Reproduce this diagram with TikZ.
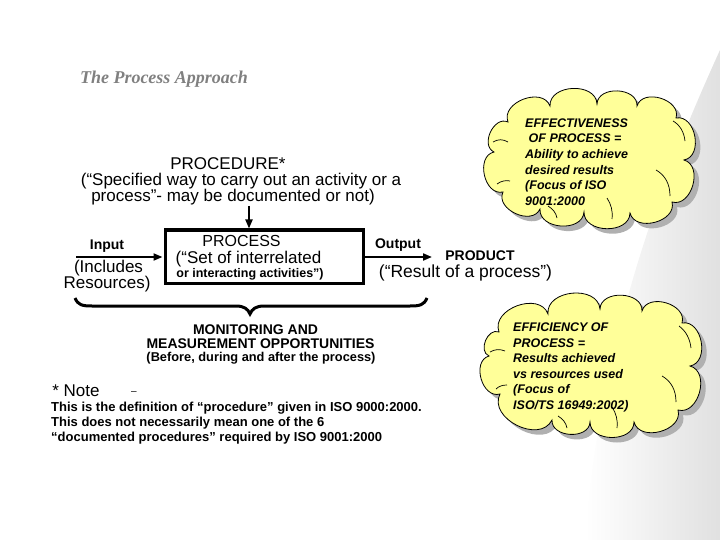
\documentclass[tikz,border=0pt]{standalone}
\usepackage{fontspec}
\setmainfont{Liberation Sans}
\newfontfamily\titlefont{Liberation Serif}
\usetikzlibrary{arrows.meta,calc}
\definecolor{cloudyellow}{RGB}{255,255,153}
\definecolor{titlegray}{RGB}{128,128,128}
\newcommand\cloudpath[1]{(#1-1) \foreach \i [evaluate=\i as \j using {int(mod(\i,12)+1)}] in {1,...,12}{
   .. controls ($(#1-\i)!0.47!90:(#1-\j)$) and ($(#1-\j)!0.47!-90:(#1-\i)$) .. (#1-\j)} -- cycle}
\begin{document}
\begin{tikzpicture}[x=1pt,y=-1pt,
  lbl/.style={inner sep=0pt, anchor=center, text=black},
  reg/.style={lbl, font=\fontsize{17}{20}\selectfont},
  bld/.style={lbl, font=\fontsize{14}{17}\selectfont\bfseries},
  arr/.style={line width=2pt, -{Triangle[length=9pt,width=7pt]}},
  cloudline/.style={draw=black, line width=0.8pt, fill=cloudyellow},
  cloudshadow/.style={fill=gray!62, draw=none, transform canvas={shift={(5,5)}}},
  innerarc/.style={draw=black, line width=0.7pt},
  cloudtext/.style={inner sep=0pt, align=left, font=\fontsize{12.5}{15.6}\selectfont\bfseries\itshape}]
\useasboundingbox (0,0) rectangle (720,540);
% background tint
\shade[left color=white, right color=gray!24, draw=none]
  (585,540) .. controls (600,330) and (670,160) .. (720,50) -- (720,540) -- cycle;
% title
\node[lbl, font=\titlefont\fontsize{18}{20}\selectfont\bfseries\itshape, text=titlegray] (title) at (164,79) {The Process Approach};
% procedure
\node[reg] (proc1) at (228,164) {PROCEDURE*};
\node[reg] (proc2) at (241,181.5) {(“Specified way to carry out an activity or a};
\node[reg] (proc3) at (233,197.5) {process”- may be documented or not)};
% process box
\node[draw, line width=3pt, minimum width=198, minimum height=53, inner sep=0pt] (box) at (264,256.5) {};
\node[lbl, font=\fontsize{16}{19}\selectfont] (pA) at (241.5,241) {PROCESS};
\node[reg] (pB) at (248.5,259) {(“Set of interrelated};
\node[lbl, font=\fontsize{12.5}{15}\selectfont\bfseries] (pC) at (250,274) {or interacting activities”)};
\coordinate (procbot) at (249,206);
\draw[arr] (procbot) -- (box.north -| procbot);
% input
\coordinate (inStart) at (76,257);
\draw[arr, shorten >=1pt] (inStart) -- (box.west |- inStart);
\node[bld] (inLbl) at (107,246) {Input};
\node[reg] (inc1) at (108.5,268) {(Includes};
\node[reg] (inc2) at (107,284) {Resources)};
% output
\coordinate (outEnd) at (432,257);
\draw[arr] (box.east |- outEnd) -- (outEnd);
\node[bld] (outLbl) at (398,245) {Output};
\node[bld] (prod) at (480,256) {PRODUCT};
\node[lbl, font=\fontsize{17.5}{20}\selectfont] (prodDef) at (465.5,273) {(“Result of a process”)};
% brace
\draw[line width=3pt] (75,298) .. controls (78,305) and (82,306) .. (92,306) -- (236,306)
  .. controls (244,306) and (248,309) .. (250,314)
  .. controls (252,309) and (256,306) .. (264,306) -- (410,306)
  .. controls (420,306) and (424,305) .. (427,298);
% monitoring
\node[bld] (mon1) at (255.5,330) {MONITORING AND};
\node[bld] (mon2) at (260.5,344) {MEASUREMENT OPPORTUNITIES};
\node[lbl, font=\fontsize{12.8}{15}\selectfont\bfseries] (mon3) at (261,358) {(Before, during and after the process)};
% note
\node[reg] (note) at (76,391) {* Note};
\node[lbl, font=\fontsize{10}{12}\selectfont] (dash) at (134,393) {–};
\node[inner sep=0pt, anchor=west, align=left, font=\fontsize{13}{15}\selectfont\bfseries] (noteBody) at (51,423)
  {This is the definition of “procedure” given in ISO 9000:2000.\\This does not necessarily mean one of the 6\\“documented procedures” required by ISO 9001:2000};
% effectiveness cloud
\coordinate (E-1) at (508,122);  \coordinate (E-2) at (550,106);
\coordinate (E-3) at (597,104);  \coordinate (E-4) at (637,106);
\coordinate (E-5) at (676,118);  \coordinate (E-6) at (684,160);
\coordinate (E-7) at (672,202);  \coordinate (E-8) at (630,213);
\coordinate (E-9) at (584,212);  \coordinate (E-10) at (540,209);
\coordinate (E-11) at (503,192); \coordinate (E-12) at (494,152);
\path[cloudshadow] \cloudpath{E};
\path[cloudline] \cloudpath{E};
\draw[innerarc] (493,142) .. controls (498,139) and (503,139) .. (508,142);
\draw[innerarc] (497,184) .. controls (501,181) and (506,180) .. (510,181);
\draw[innerarc] (673,121) .. controls (680,125) and (684,132) .. (685,141);
\draw[innerarc] (656,170) .. controls (665,175) and (670,184) .. (670,196);
\draw[innerarc] (607,198) .. controls (611,204) and (613,211) .. (612,219);
\draw[innerarc] (548,206) .. controls (553,209) and (556,213) .. (557,218);
\node[cloudtext, anchor=west] (effT) at (525,162)
  {EFFECTIVENESS\\\ OF PROCESS =\\Ability to achieve\\desired results\\(Focus of ISO\\9001:2000};
% efficiency cloud
\coordinate (F-1) at (499,332);  \coordinate (F-2) at (548,314);
\coordinate (F-3) at (600,309);  \coordinate (F-4) at (642,311);
\coordinate (F-5) at (682,323);  \coordinate (F-6) at (690,366);
\coordinate (F-7) at (678,410);  \coordinate (F-8) at (634,422);
\coordinate (F-9) at (590,422);  \coordinate (F-10) at (552,420);
\coordinate (F-11) at (500,394); \coordinate (F-12) at (489,356);
\path[cloudshadow] \cloudpath{F};
\path[cloudline] \cloudpath{F};
\draw[innerarc] (490,352) .. controls (495,349) and (500,349) .. (505,351);
\draw[innerarc] (496,389) .. controls (499,386) and (503,385) .. (507,385);
\draw[innerarc] (679,326) .. controls (686,331) and (690,339) .. (691,348);
\draw[innerarc] (662,376) .. controls (671,381) and (676,390) .. (676,402);
\draw[innerarc] (612,407) .. controls (616,413) and (618,420) .. (617,428);
\draw[innerarc] (558,416) .. controls (563,419) and (566,423) .. (567,428);
\node[cloudtext, anchor=west] (efcT) at (513,367.5)
  {EFFICIENCY OF\\PROCESS =\\Results achieved\\vs resources used\\(Focus of\\ISO/TS 16949:2002)};
\end{tikzpicture}
\end{document}
